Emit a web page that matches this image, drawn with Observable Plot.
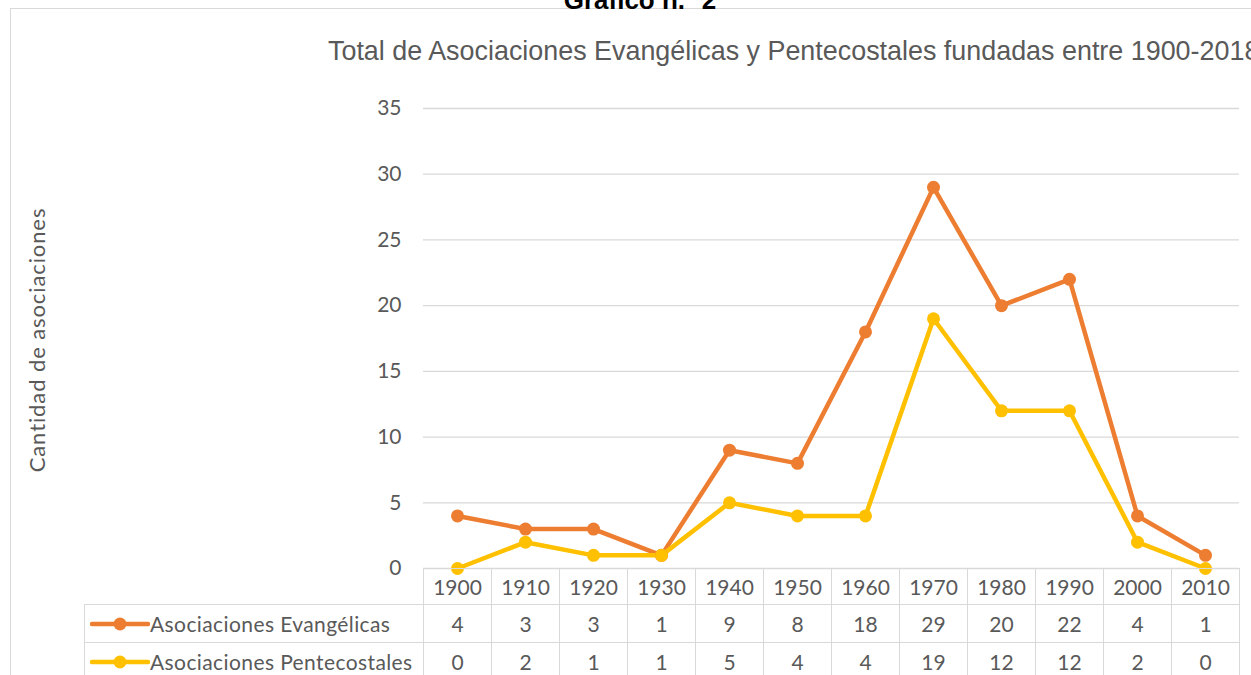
<!DOCTYPE html>
<html>
<head>
<meta charset="utf-8">
<script src="https://cdn.jsdelivr.net/npm/d3@7"></script>
<script src="https://cdn.jsdelivr.net/npm/@observablehq/plot@0.6"></script>
<style>
  html, body { margin: 0; padding: 0; background: #fff; overflow: hidden; }
  #wrap { position: relative; width: 1251px; height: 675px; overflow: hidden; font-family: Lato, "Open Sans", sans-serif; color: #595959; }
  .abs { position: absolute; }
  .frame { left: 10px; top: 8px; width: 1300px; height: 700px; border: 1px solid #d9d9d9; box-sizing: border-box; }
  .title { left: 0; width: 1280px; top: -15px; text-align: center; font: bold 26px "Liberation Sans", Arial, sans-serif; color: #000; }
  .subtitle { left: 328px; top: 36px; white-space: nowrap; font: 26.9px "Liberation Sans", Arial, sans-serif; color: #595959; }
  .ylab { left: 36px; top: 340px; transform: translate(-50%, -50%) rotate(-90deg); white-space: nowrap; font-size: 22px; letter-spacing: 0.9px; }
  .cell { box-sizing: border-box; border: 1px solid #d9d9d9; display: flex; align-items: center; justify-content: center; font-size: 21px; color: #595959; }
  .rowlab { justify-content: flex-start; padding-left: 5px; letter-spacing: 0.4px; }
</style>
</head>
<body>
<div id="wrap">
  <div class="abs frame"></div>
  <div class="abs title">Gráfico n.º 2</div>
  <div class="abs subtitle">Total de Asociaciones Evangélicas y Pentecostales fundadas entre 1900-2018</div>
  <div class="abs ylab">Cantidad de asociaciones</div>
</div>
<script>
const years = ["1900","1910","1920","1930","1940","1950","1960","1970","1980","1990","2000","2010"];
const evangelicas = [4,3,3,1,9,8,18,29,20,22,4,1];
const pentecostales = [0,2,1,1,5,4,4,19,12,12,2,0];
const seriesNames = ["Asociaciones Evangélicas","Asociaciones Pentecostales"];
const seriesColors = ["#ED7D31","#FFC000"];
const yTicks = [0,5,10,15,20,25,30,35];

const data = [];
years.forEach((y,i) => {
  data.push({year: y, value: evangelicas[i], series: seriesNames[0]});
  data.push({year: y, value: pentecostales[i], series: seriesNames[1]});
});

const W = 1251, H = 675;
const plot = Plot.plot({
  width: W, height: H,
  marginLeft: 423, marginRight: 12, marginTop: 108, marginBottom: 107,
  style: {background: "transparent", fontFamily: "Lato, 'Open Sans', sans-serif"},
  x: {type: "band", domain: years, padding: 0, axis: null},
  y: {domain: [0,35], ticks: yTicks, label: null, grid: false},
  color: {domain: seriesNames, range: seriesColors},
  marks: [
    Plot.ruleY(yTicks, {stroke: "#d9d9d9", strokeWidth: 1.3, strokeOpacity: 1}),
    Plot.axisY({ticks: yTicks, tickSize: 0, tickPadding: 22, label: null, fontSize: 21, fill: "#595959"}),
    Plot.line(data, {x: "year", y: "value", stroke: "series", z: "series", strokeWidth: 4.5, strokeLinejoin: "round", strokeLinecap: "round"}),
    Plot.dot(data, {x: "year", y: "value", fill: "series", r: 6.5, stroke: "none"})
  ]
});
plot.style.position = "absolute";
plot.style.left = "0px";
plot.style.top = "0px";
const wrap = document.getElementById("wrap");
wrap.appendChild(plot);

// Data table under the plot, aligned with the x band scale
const xs = plot.scale("x");
const bw = xs.bandwidth;
const y0 = plot.scale("y").apply(0);
const headerH = 36, rowH = 38;
const legendLeft = 84;
function addCell(left, top, width, height, text, cls) {
  const d = document.createElement("div");
  d.className = "abs cell" + (cls ? " " + cls : "");
  d.style.left = left + "px"; d.style.top = top + "px";
  d.style.width = (width + 1) + "px"; d.style.height = (height + 1) + "px";
  if (text !== null) d.textContent = text;
  wrap.appendChild(d);
  return d;
}
years.forEach((yr, i) => {
  const left = xs.apply(yr);
  addCell(left, y0, bw, headerH, yr);
  addCell(left, y0 + headerH, bw, rowH, String(evangelicas[i]));
  addCell(left, y0 + headerH + rowH, bw, rowH, String(pentecostales[i]));
});
const firstLeft = xs.apply(years[0]);
[0,1].forEach(k => {
  const c = addCell(legendLeft, y0 + headerH + k*rowH, firstLeft - legendLeft, rowH, null, "rowlab");
  const key = document.createElementNS("http://www.w3.org/2000/svg", "svg");
  key.setAttribute("width", 60); key.setAttribute("height", 16);
  key.style.flex = "none";
  key.innerHTML = `<line x1="2" y1="8" x2="58" y2="8" stroke="${seriesColors[k]}" stroke-width="4.5" stroke-linecap="round"/><circle cx="30" cy="8" r="6.5" fill="${seriesColors[k]}"/>`;
  c.appendChild(key);
  const s = document.createElement("span");
  s.textContent = seriesNames[k];
  s.style.marginLeft = "0px";
  c.appendChild(s);
});
</script>
</body>
</html>
